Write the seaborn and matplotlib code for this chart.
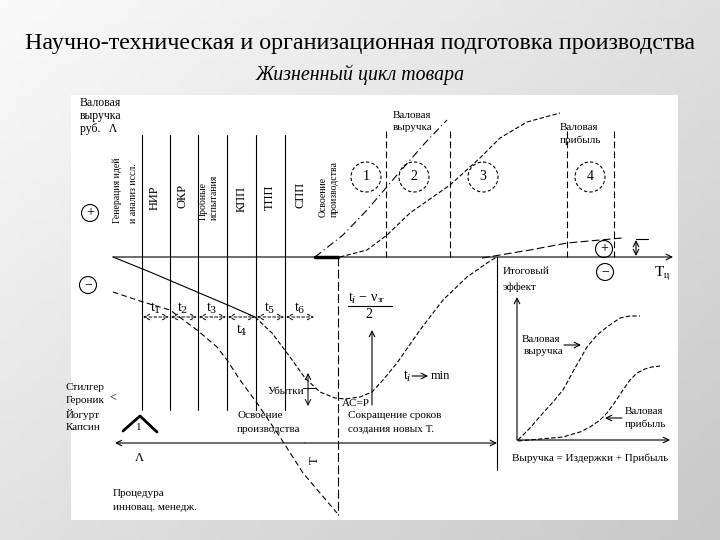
import matplotlib.pyplot as plt
import numpy as np
import pandas as pd
import seaborn as sns
from matplotlib.patches import Circle, Rectangle

sns.set_style("white")
plt.rcParams['font.family'] = ['Liberation Serif', 'DejaVu Serif']
plt.rcParams['mathtext.fontset'] = 'dejavuserif'

# --- data (picture coordinates, y grows downward) ---
stage_lines_x = [142, 170, 198, 227, 256, 285]
stage_labels = [["Генерация идей", "и анализ иссл."], ["НИР"], ["ОКР"],
                ["Пробные", "испытания"], ["КПП"], ["ТПП"], ["СПП"],
                ["Освоение", "производства"]]
phase_lines_x = [386, 450, 567, 614]
phase_numbers = ["1", "2", "3", "4"]
phase_centers_x = [366, 414, 483, 590]
t_labels = ["t$_1$", "t$_2$", "t$_3$", "t$_4$", "t$_5$", "t$_6$"]

revenue_x = [315, 343, 367, 397, 425, 447]
revenue_y = [257, 235, 210, 175, 143, 120]
profit_x = [340, 367, 387, 410, 450, 480, 500, 527, 560]
profit_y = [257, 250, 235, 213, 185, 158, 138, 122, 113]
profit2_x = [482, 500, 530, 567, 600, 622]
profit2_y = [258, 255, 250, 243, 240, 238]
effect_x = [113, 150, 190, 230, 255, 272, 290, 305, 320, 335, 345, 360, 372,
            383, 397, 420, 443, 467, 490, 497]
effect_y = [257, 272, 289, 306, 317, 333, 357, 378, 392, 398, 399, 397, 392,
            380, 363, 330, 300, 277, 261, 257]
cost_x = [113, 143, 170, 197, 217, 227, 240, 257, 280, 303, 337]
cost_y = [292, 302, 310, 330, 347, 360, 380, 403, 437, 473, 513]
inset_rev_x = [518, 530, 543, 553, 563, 575, 587, 597, 607, 620, 630, 640]
inset_rev_y = [440, 428, 413, 402, 390, 368, 347, 335, 327, 318, 316, 316]
inset_prof_x = [518, 540, 563, 580, 590, 600, 607, 615, 623, 630, 637, 645, 652, 660]
inset_prof_y = [441, 439, 437, 432, 427, 420, 413, 402, 390, 380, 373, 369, 367, 366]
products = ["Стилгер", "Героник", "Йогурт", "Капсин"]

fig = plt.figure(figsize=(7.2, 5.4), dpi=100)
ax = fig.add_axes([0, 0, 1, 1])
ax.set_xlim(0, 720)
ax.set_ylim(540, 0)
ax.axis('off')

# slide background: light at top-left, grey towards bottom-right
gx, gy = np.meshgrid(np.linspace(0, 1, 72), np.linspace(0, 1, 54))
shade = (250 - 26 * gx - 24 * gy) / 255
ax.imshow(np.dstack([shade] * 3), extent=(0, 720, 540, 0), zorder=-2, aspect='auto')
ax.add_patch(Rectangle((71, 95), 607, 425, facecolor='white', edgecolor='none', zorder=0))


def curve(x, y, ls=(0, (4, 2)), lw=0.8):
    sns.lineplot(x=x, y=y, sort=False, estimator=None, color='black', lw=lw,
                 linestyle=ls, ax=ax, legend=False)


def line(x, y, ls='-', lw=0.8):
    ax.plot(x, y, color='black', lw=lw, linestyle=ls)


def arrow(x0, y0, x1, y1, style='->', ls='-', lw=0.8):
    ax.annotate('', xy=(x1, y1), xytext=(x0, y0),
                arrowprops=dict(arrowstyle=style, color='black', lw=lw,
                                linestyle=ls, shrinkA=0, shrinkB=0))


def txt(x, y, s, size=8, **kw):
    kw.setdefault('ha', 'left')
    kw.setdefault('va', 'center')
    ax.text(x, y, s, fontsize=size, color='black', **kw)


# titles
txt(360, 44, "Научно-техническая и организационная подготовка производства", 17.3, ha='center')
txt(360, 75, "Жизненный цикл товара", 14.3, ha='center', style='italic')

# axes
arrow(113, 257, 673, 257)
line([315, 338], [257, 257], lw=2.5)
for x in stage_lines_x:
    line([x, x], [135, 410])
for x in phase_lines_x:
    line([x, x], [131, 257], ls=(0, (6, 3)))
line([338, 338], [257, 515], ls=(0, (8, 3)))
line([497, 497], [257, 470])

# stage labels (rotated)
label_x = [[117, 134], [155], [183], [203, 214], [242], [270], [300], [323, 334]]
label_bottom = [223, 210, 208, 220, 212, 210, 208, 217]
for lab, xs, yb in zip(stage_labels, label_x, label_bottom):
    fs = 9 if len(lab) == 1 else 7
    for s, x in zip(lab, xs):
        txt(x, yb, s, fs, rotation=90, ha='center', va='bottom')

txt(80, 103, "Валовая", 8.5)
txt(80, 116, "выручка", 8.5)
txt(80, 129, "руб.   Λ", 8.5)

# signs
for cx, cy, s in [(90, 213, "+"), (88, 285, "−"), (605, 272, "−"), (604, 249, "+")]:
    ax.add_patch(Circle((cx, cy), 8.5, fill=False, lw=0.8, color='black'))
    txt(cx, cy, s, 10, ha='center')

# phases
for n, cx in zip(phase_numbers, phase_centers_x):
    ax.add_patch(Circle((cx, 177), 15, fill=False, lw=0.8, color='black', linestyle=(0, (3, 2))))
    txt(cx, 177, n, 10, ha='center')

# upper curves
curve(revenue_x, revenue_y, ls=(0, (7, 3, 1, 3)))
curve(profit_x, profit_y)
curve(profit2_x, profit2_y, ls=(0, (7, 3)))
txt(393, 115, "Валовая", 8)
txt(393, 128, "выручка", 8)
txt(560, 127, "Валовая", 8)
txt(560, 140, "прибыль", 8)
arrow(636, 248, 636, 240, style='->')
arrow(636, 248, 636, 256, style='->')
line([636, 648], [239, 239])

# lower curves: solid until the end of t4, dashed afterwards
curve(effect_x[:5], effect_y[:5], ls='-')
curve(effect_x[4:], effect_y[4:])
curve(cost_x, cost_y, ls=(0, (5, 3)))

# t segments
seg_edges = stage_lines_x + [315]
for a, b in zip(seg_edges[:-1], seg_edges[1:]):
    arrow(a + 1, 317, b - 1, 317, style='<->', ls=(0, (3, 2)), lw=0.7)
t_pos = [(155, 308), (183, 308), (212, 308), (242, 330), (270, 308), (300, 308)]
for s, (x, y) in zip(t_labels, t_pos):
    txt(x, y, s, 10, ha='center')

# fraction
txt(348, 298, "t$_i$ − ν", 10)
txt(378, 300, "зг", 6)
line([348, 392], [306, 306])
txt(369, 315, "2", 10, ha='center')
arrow(372, 405, 372, 330)
txt(403, 376, "t$_i$", 10)
arrow(412, 376, 428, 376)
txt(431, 376, "min", 9)

# losses / break-even
arrow(308, 390, 308, 373, style='->', lw=0.7)
arrow(308, 390, 308, 406, style='->', lw=0.7)
line([303, 316], [388, 388], lw=0.7)
txt(268, 392, "Убытки", 8)
txt(342, 403, "AC=P", 8)
txt(348, 415, "Сокращение сроков", 8)
txt(348, 429, "создания новых Т.", 8)
txt(237, 415, "Освоение", 8)
txt(237, 429, "производства", 8)

# products
for i, p in enumerate(products):
    txt(66, 387 + 13.5 * i, p, 8)
txt(109, 398, "<", 9)
line([123, 140, 157], [431, 416, 432], lw=2)
txt(139, 427, "1", 8, ha='center')

arrow(305, 443, 115, 443)
arrow(305, 443, 497, 443)
txt(139, 458, "Λ", 9, ha='center')
txt(315, 460, "Т", 9, ha='center', rotation=90)
txt(113, 493, "Процедура", 8)
txt(113, 507, "инновац. менедж.", 8)

# right inset
txt(503, 272, "Итоговый", 8)
txt(503, 287, "эффект", 8)
txt(655, 272, "T", 11)
txt(664, 276, "ц", 7)
arrow(517, 440, 517, 297)
arrow(517, 440, 670, 440)
curve(inset_rev_x, inset_rev_y)
curve(inset_prof_x, inset_prof_y)
txt(522, 339, "Валовая", 8)
txt(524, 352, "выручка", 8)
arrow(564, 345, 581, 345)
txt(625, 411, "Валовая", 8)
txt(625, 424, "прибыль", 8)
arrow(622, 418, 605, 418)
txt(512, 458, "Выручка = Издержки + Прибыль", 8)

fig.savefig("out.png", dpi=100)
